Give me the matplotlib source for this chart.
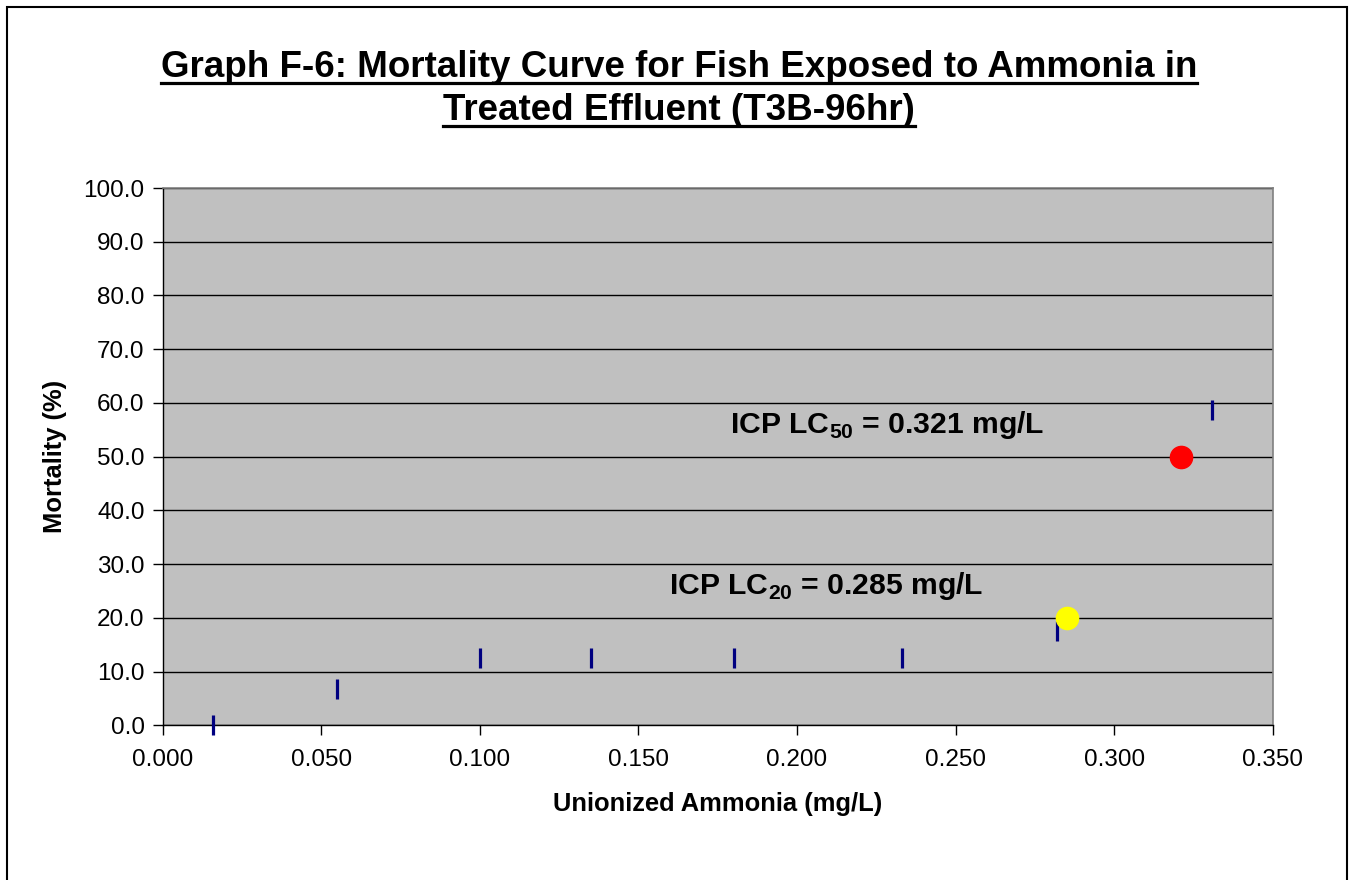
import matplotlib
matplotlib.use("Agg")
import matplotlib.pyplot as plt
from matplotlib.patches import Rectangle
from matplotlib.lines import Line2D

plt.rcParams['font.family'] = ['Liberation Sans', 'DejaVu Sans']
plt.rcParams['mathtext.fontset'] = 'custom'
plt.rcParams['mathtext.rm'] = 'Liberation Sans'
plt.rcParams['mathtext.bf'] = 'Liberation Sans:bold'

# Data
ammonia = [0.016, 0.055, 0.100, 0.135, 0.180, 0.233, 0.282, 0.331]
mortality = [0.0, 6.7, 12.5, 12.5, 12.5, 12.5, 17.5, 58.7]
lc50_x, lc50_y = [0.321], [50.0]
lc20_x, lc20_y = [0.285], [20.0]
x_ticks = [0.0, 0.05, 0.10, 0.15, 0.20, 0.25, 0.30, 0.35]
y_ticks = [0, 10, 20, 30, 40, 50, 60, 70, 80, 90, 100]
title_lines = ["Graph F-6: Mortality Curve for Fish Exposed to Ammonia in",
               "Treated Effluent (T3B-96hr)"]

W, H = 1350, 880
fig = plt.figure(figsize=(13.5, 8.8), dpi=100)
fig.patch.set_facecolor('white')
ax = fig.add_axes([162.7/W, 1-725.3/H, (1272.7-162.7)/W, (725.3-188)/H])
ax.set_facecolor('#C0C0C0')

ax.set_xlim(0, 0.35)
ax.set_ylim(0, 100)
ax.set_xticks(x_ticks)
ax.set_yticks(y_ticks)
ax.set_xticklabels([f"{v:.3f}" for v in x_ticks])
ax.set_yticklabels([f"{v:.1f}" for v in y_ticks])
ax.tick_params(axis='both', direction='out', length=7, width=1, labelsize=17.5, colors='black')
ax.tick_params(axis='x', pad=10)
ax.tick_params(axis='y', pad=6)
ax.yaxis.grid(True, color='black', linewidth=1)
ax.set_axisbelow(True)
for s in ['top', 'right']:
    ax.spines[s].set_color('#808080')
    ax.spines[s].set_linewidth(1.2)
for s in ['left', 'bottom']:
    ax.spines[s].set_color('black')
    ax.spines[s].set_linewidth(1)

ax.plot(ammonia, mortality, linestyle='none', marker='|', markersize=14,
        markeredgewidth=2.3, color='#000080', zorder=3, clip_on=False)
ax.plot(lc50_x, lc50_y, linestyle='none', marker='o', markersize=16,
        color='#FF0000', markeredgecolor='#FF0000', zorder=4)
ax.plot(lc20_x, lc20_y, linestyle='none', marker='o', markersize=16,
        color='#FFFF00', markeredgecolor='#FFFF00', zorder=4)

ax.text(0.1789, 54.4, r'ICP LC$_{\mathbf{50}}$ = 0.321 mg/L', fontsize=21.7,
        fontweight='bold', ha='left', va='baseline')
ax.text(0.1597, 24.4, r'ICP LC$_{\mathbf{20}}$ = 0.285 mg/L', fontsize=21.7,
        fontweight='bold', ha='left', va='baseline')

ax.set_xlabel('Unionized Ammonia (mg/L)', fontsize=18.4, fontweight='bold', labelpad=15)
ax.set_ylabel('Mortality (%)', fontsize=18.4, fontweight='bold', labelpad=12)

# Title with underline
t1 = fig.text(679/W, 1-77/H, title_lines[0], fontsize=26.5, fontweight='bold', ha='center', va='baseline')
t2 = fig.text(679/W, 1-120/H, title_lines[1], fontsize=26.5, fontweight='bold', ha='center', va='baseline')
fig.canvas.draw()
r = fig.canvas.get_renderer()
for t, base in ((t1, 77), (t2, 120)):
    bb = t.get_window_extent(r)
    y = H - (base + 6.5)
    fig.add_artist(Line2D([bb.x0/W, bb.x1/W], [y/H, y/H],
                          transform=fig.transFigure, color='black', linewidth=2.3))

# Outer frame
fig.add_artist(Rectangle((7/W, -0.05), (1347-7)/W, 1.05 - 7/H,
                         transform=fig.transFigure, fill=False, edgecolor='black', linewidth=1.5))

fig.savefig('out.png', dpi=100)
